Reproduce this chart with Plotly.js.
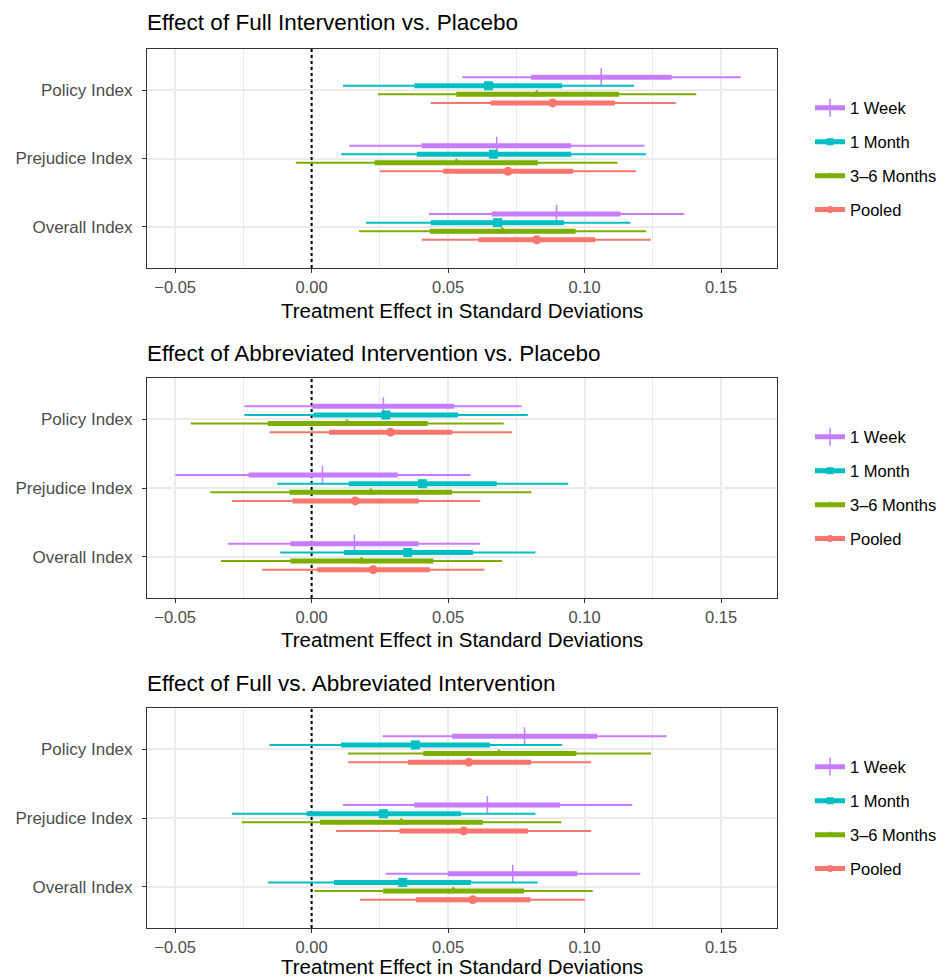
<!DOCTYPE html>
<html>
<head>
<meta charset="utf-8">
<script src="https://cdn.plot.ly/plotly-3.0.1.min.js"></script>
<style>html,body{margin:0;padding:0;background:#fff;}#chart{width:942px;height:978px;}</style>
</head>
<body>
<div id="chart"></div>
<script>
// ---- Data ----
const categories = ["Policy Index", "Prejudice Index", "Overall Index"];
const seriesNames = ["1 Week", "1 Month", "3–6 Months", "Pooled"];
const panelTitles = [
  "Effect of Full Intervention vs. Placebo",
  "Effect of Abbreviated Intervention vs. Placebo",
  "Effect of Full vs. Abbreviated Intervention"
];
const xAxisTitle = "Treatment Effect in Standard Deviations";
const xTickVals = [-0.05, 0, 0.05, 0.10, 0.15];
const referenceLineX = 0;

// Panel 1: Full vs Placebo (order: Policy, Prejudice, Overall)
const p1_week_est  = [0.1061, 0.0678, 0.0897];
const p1_week_lo95 = [0.0552, 0.0138, 0.0430];
const p1_week_hi95 = [0.1572, 0.1220, 0.1365];
const p1_week_lo90 = [0.0804, 0.0403, 0.0660];
const p1_week_hi90 = [0.1319, 0.0951, 0.1132];
const p1_month_est  = [0.0648, 0.0666, 0.0681];
const p1_month_lo95 = [0.0115, 0.0108, 0.0199];
const p1_month_hi95 = [0.1181, 0.1225, 0.1168];
const p1_month_lo90 = [0.0377, 0.0385, 0.0437];
const p1_month_hi90 = [0.0918, 0.0951, 0.0925];
const p1_m36_est  = [0.0825, 0.0530, 0.0699];
const p1_m36_lo95 = [0.0243, -0.0058, 0.0174];
const p1_m36_hi95 = [0.1409, 0.1120, 0.1225];
const p1_m36_lo90 = [0.0530, 0.0231, 0.0433];
const p1_m36_hi90 = [0.1126, 0.0829, 0.0967];
const p1_pool_est  = [0.0883, 0.0719, 0.0825];
const p1_pool_lo95 = [0.0437, 0.0250, 0.0404];
const p1_pool_hi95 = [0.1334, 0.1189, 0.1243];
const p1_pool_lo90 = [0.0656, 0.0482, 0.0612];
const p1_pool_hi90 = [0.1111, 0.0958, 0.1039];

// Panel 2: Abbreviated vs Placebo
const p2_week_est  = [0.0263, 0.0040, 0.0157];
const p2_week_lo95 = [-0.0246, -0.0499, -0.0307];
const p2_week_hi95 = [0.0769, 0.0582, 0.0618];
const p2_week_lo90 = [0.0003, -0.0231, -0.0078];
const p2_week_hi90 = [0.0522, 0.0316, 0.0392];
const p2_month_est  = [0.0272, 0.0406, 0.0352];
const p2_month_lo95 = [-0.0246, -0.0126, -0.0115];
const p2_month_hi95 = [0.0792, 0.0940, 0.0820];
const p2_month_lo90 = [0.0007, 0.0136, 0.0118];
const p2_month_hi90 = [0.0537, 0.0678, 0.0591];
const p2_m36_est  = [0.0130, 0.0217, 0.0183];
const p2_m36_lo95 = [-0.0443, -0.0371, -0.0332];
const p2_m36_hi95 = [0.0704, 0.0805, 0.0698];
const p2_m36_lo90 = [-0.0160, -0.0081, -0.0078];
const p2_m36_hi90 = [0.0425, 0.0515, 0.0446];
const p2_pool_est  = [0.0289, 0.0160, 0.0226];
const p2_pool_lo95 = [-0.0154, -0.0292, -0.0181];
const p2_pool_hi95 = [0.0734, 0.0618, 0.0633];
const p2_pool_lo90 = [0.0064, -0.0070, 0.0021];
const p2_pool_hi90 = [0.0515, 0.0392, 0.0433];

// Panel 3: Full vs Abbreviated
const p3_week_est  = [0.0780, 0.0644, 0.0737];
const p3_week_lo95 = [0.0260, 0.0115, 0.0271];
const p3_week_hi95 = [0.1301, 0.1175, 0.1204];
const p3_week_lo90 = [0.0515, 0.0376, 0.0500];
const p3_week_hi90 = [0.1046, 0.0910, 0.0973];
const p3_month_est  = [0.0380, 0.0263, 0.0334];
const p3_month_lo95 = [-0.0154, -0.0292, -0.0159];
const p3_month_hi95 = [0.0918, 0.0820, 0.0828];
const p3_month_lo90 = [0.0108, -0.0018, 0.0082];
const p3_month_hi90 = [0.0653, 0.0548, 0.0584];
const p3_m36_est  = [0.0687, 0.0329, 0.0519];
const p3_m36_lo95 = [0.0133, -0.0256, 0.0010];
const p3_m36_hi95 = [0.1243, 0.0915, 0.1030];
const p3_m36_lo90 = [0.0409, 0.0031, 0.0262];
const p3_m36_hi90 = [0.0970, 0.0627, 0.0778];
const p3_pool_est  = [0.0576, 0.0557, 0.0590];
const p3_pool_lo95 = [0.0133, 0.0090, 0.0177];
const p3_pool_hi95 = [0.1024, 0.1024, 0.1001];
const p3_pool_lo90 = [0.0353, 0.0322, 0.0382];
const p3_pool_hi90 = [0.0804, 0.0793, 0.0801];

// ---- Build structures ----
const panels = [
  [
    {est:p1_week_est, lo95:p1_week_lo95, hi95:p1_week_hi95, lo90:p1_week_lo90, hi90:p1_week_hi90},
    {est:p1_month_est, lo95:p1_month_lo95, hi95:p1_month_hi95, lo90:p1_month_lo90, hi90:p1_month_hi90},
    {est:p1_m36_est, lo95:p1_m36_lo95, hi95:p1_m36_hi95, lo90:p1_m36_lo90, hi90:p1_m36_hi90},
    {est:p1_pool_est, lo95:p1_pool_lo95, hi95:p1_pool_hi95, lo90:p1_pool_lo90, hi90:p1_pool_hi90}
  ],
  [
    {est:p2_week_est, lo95:p2_week_lo95, hi95:p2_week_hi95, lo90:p2_week_lo90, hi90:p2_week_hi90},
    {est:p2_month_est, lo95:p2_month_lo95, hi95:p2_month_hi95, lo90:p2_month_lo90, hi90:p2_month_hi90},
    {est:p2_m36_est, lo95:p2_m36_lo95, hi95:p2_m36_hi95, lo90:p2_m36_lo90, hi90:p2_m36_hi90},
    {est:p2_pool_est, lo95:p2_pool_lo95, hi95:p2_pool_hi95, lo90:p2_pool_lo90, hi90:p2_pool_hi90}
  ],
  [
    {est:p3_week_est, lo95:p3_week_lo95, hi95:p3_week_hi95, lo90:p3_week_lo90, hi90:p3_week_hi90},
    {est:p3_month_est, lo95:p3_month_lo95, hi95:p3_month_hi95, lo90:p3_month_lo90, hi90:p3_month_hi90},
    {est:p3_m36_est, lo95:p3_m36_lo95, hi95:p3_m36_hi95, lo90:p3_m36_lo90, hi90:p3_m36_hi90},
    {est:p3_pool_est, lo95:p3_pool_lo95, hi95:p3_pool_hi95, lo90:p3_pool_lo90, hi90:p3_pool_hi90}
  ]
];

const colors = ["#C77CFF", "#00BFC4", "#7CAE00", "#F8766D"];
const symbols = ["line-ns-open", "square", "triangle-up", "circle"];
const msizes = [13, 9, 9, 9];
const dodge = [0.1875, 0.0625, -0.0625, -0.1875];
const yRange = [0.4, 3.6];

const FONT = "Liberation Sans, Arial, Helvetica, sans-serif";
const H = 978;
const panelPx = [[49, 268], [378, 598], [708, 928]];
const titlePx = [22, 353, 683];
const xTitlePx = [310, 639, 966];
const legendPx = [159, 488, 818];
const py = p => 1 - p / H;

const traces = [];
panels.forEach((panel, pi) => {
  const ax = pi === 0 ? "" : String(pi + 1);
  const xa = "x" + ax, ya = "y" + ax;
  const legendId = "legend" + ax;
  // dotted reference line at zero (drawn first, under the intervals)
  traces.push({
    type: "scatter", mode: "lines", x: [referenceLineX, referenceLineX], y: yRange,
    xaxis: xa, yaxis: ya, line: {color: "#000000", width: 2, dash: "dot"},
    showlegend: false, hoverinfo: "skip"
  });
  panel.forEach((s, si) => {
    const yPos = categories.map((c, ci) => (categories.length - ci) + dodge[si]);
    const thinX = [], thinY = [], thickX = [], thickY = [];
    categories.forEach((c, ci) => {
      thinX.push(s.lo95[ci], s.hi95[ci], null);
      thinY.push(yPos[ci], yPos[ci], null);
      thickX.push(s.lo90[ci], s.hi90[ci], null);
      thickY.push(yPos[ci], yPos[ci], null);
    });
    const isLine = si === 0;
    traces.push({
      type: "scatter", mode: "lines", x: thinX, y: thinY, xaxis: xa, yaxis: ya,
      line: {color: colors[si], width: 2}, showlegend: false, hoverinfo: "skip"
    });
    traces.push({
      type: "scatter", mode: "lines", x: thickX, y: thickY, xaxis: xa, yaxis: ya,
      line: {color: colors[si], width: 5}, showlegend: false, hoverinfo: "skip"
    });
    traces.push({
      type: "scatter", mode: "markers", x: s.est, y: yPos, xaxis: xa, yaxis: ya,
      marker: {color: colors[si], symbol: symbols[si], size: msizes[si],
               line: {color: colors[si], width: isLine ? 1.5 : 0}},
      showlegend: false, hoverinfo: "skip"
    });
    // legend entry
    traces.push({
      type: "scatter", mode: "lines+markers", x: [null], y: [null], xaxis: xa, yaxis: ya,
      name: seriesNames[si], legend: legendId, legendgroup: "g" + pi + "_" + si,
      line: {color: colors[si], width: 5},
      marker: {color: colors[si], symbol: symbols[si], size: isLine ? 13 : 7,
               line: {color: colors[si], width: isLine ? 1.5 : 0}}
    });
  });
});

const layout = {
  width: 942, height: 978,
  margin: {l: 147, r: 159, t: 0, b: 0},
  paper_bgcolor: "#FFFFFF", plot_bgcolor: "#FFFFFF",
  font: {family: FONT, size: 16, color: "#4D4D4D"},
  annotations: []
};

for (let pi = 0; pi < 3; pi++) {
  const ax = pi === 0 ? "" : String(pi + 1);
  layout["xaxis" + ax] = {
    anchor: "y" + ax, domain: [0, 1], range: [-0.0603, 0.1705],
    tickvals: xTickVals, tickformat: ".2f",
    ticks: "outside", ticklen: 4, tickwidth: 1, tickcolor: "#333333",
    tickfont: {family: FONT, size: 16.5, color: "#4D4D4D"},
    showgrid: true, gridcolor: "#EBEBEB", gridwidth: 2, zeroline: false,
    minor: {dtick: 0.025, tick0: 0, showgrid: true, gridcolor: "#EBEBEB", gridwidth: 1, ticks: ""},
    showline: true, linecolor: "#333333", linewidth: 1, mirror: true
  };
  layout["yaxis" + ax] = {
    anchor: "x" + ax, domain: [py(panelPx[pi][1]), py(panelPx[pi][0])], range: yRange,
    tickvals: [3, 2, 1], ticktext: categories,
    ticks: "outside", ticklen: 4, tickwidth: 1, tickcolor: "#333333", ticklabelstandoff: 6,
    tickfont: {family: FONT, size: 17, color: "#4D4D4D"},
    showgrid: true, gridcolor: "#EBEBEB", gridwidth: 2, zeroline: false,
    showline: true, linecolor: "#333333", linewidth: 1, mirror: true
  };
  layout["legend" + ax] = {
    x: 1.053, xanchor: "left", y: py(legendPx[pi]), yanchor: "middle",
    bgcolor: "rgba(0,0,0,0)", borderwidth: 0, tracegroupgap: 9.5,
    font: {family: FONT, size: 16.5, color: "#000000"}, itemwidth: 30
  };
  layout.annotations.push({
    text: panelTitles[pi], xref: "paper", yref: "paper", x: -0.003, y: py(titlePx[pi]),
    xanchor: "left", yanchor: "middle", showarrow: false,
    font: {family: FONT, size: 22.5, color: "#000000"}
  });
  layout.annotations.push({
    text: xAxisTitle, xref: "paper", yref: "paper", x: 0.5, y: py(xTitlePx[pi]),
    xanchor: "center", yanchor: "middle", showarrow: false,
    font: {family: FONT, size: 20.5, color: "#000000"}
  });
}

Plotly.newPlot("chart", traces, layout, {displayModeBar: false, staticPlot: true});
</script>
</body>
</html>
